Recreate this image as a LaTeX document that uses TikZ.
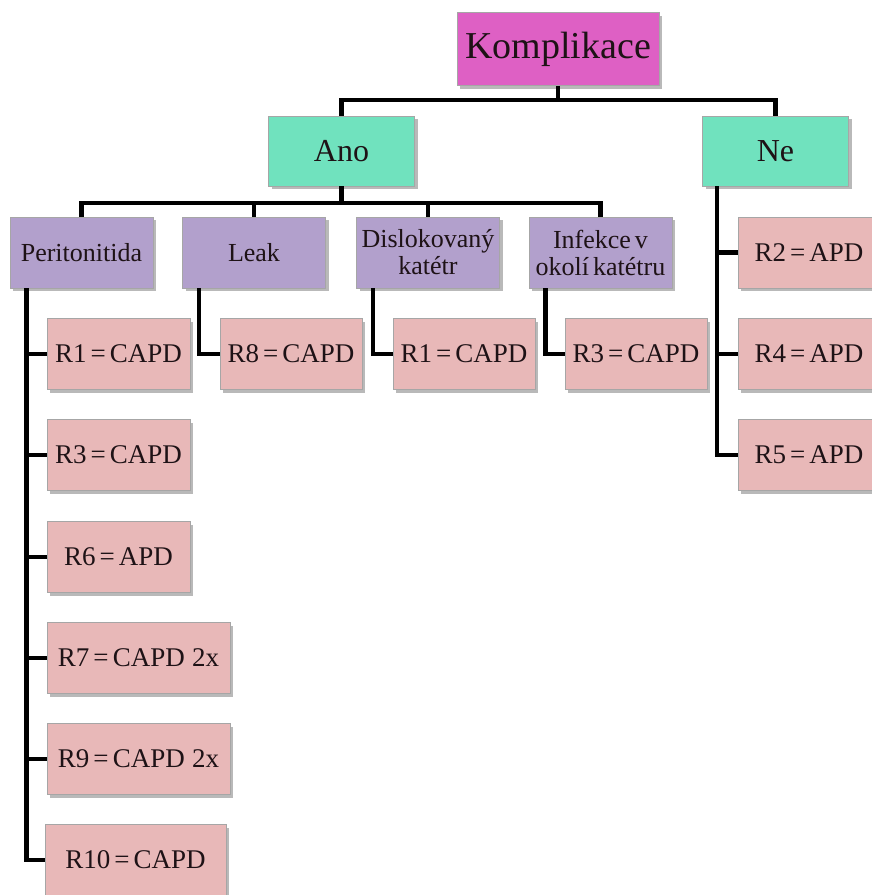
\documentclass[tikz,border=0pt]{standalone}
\usepackage{fontspec}
\setmainfont{Liberation Serif}[WordSpace=0.6]
\usetikzlibrary{shadows}
\definecolor{cKom}{RGB}{222,96,196}
\definecolor{cAno}{RGB}{112,226,190}
\definecolor{cLev}{RGB}{178,160,204}
\definecolor{cLeaf}{RGB}{232,184,184}
\definecolor{cTxt}{RGB}{30,18,22}
\tikzset{
  box/.style={rectangle, draw=gray!70, line width=0.7pt, text=cTxt, inner sep=0pt,
    align=center, drop shadow={shadow xshift=3pt, shadow yshift=-3pt, fill=gray!55, opacity=1}},
  kombox/.style={box, fill=cKom, minimum width=202pt, minimum height=73pt, font=\fontsize{38}{40}\selectfont},
  anobox/.style={box, fill=cAno, minimum width=146pt, minimum height=70pt, font=\fontsize{32}{34}\selectfont},
  levbox/.style={box, fill=cLev, minimum width=143pt, minimum height=71pt, font=\fontsize{26}{27}\selectfont},
  leafbox/.style={box, fill=cLeaf, minimum width=143pt, minimum height=71pt, font=\fontsize{27}{29}\selectfont},
  conn/.style={line width=4.5pt, black, line join=miter}
}
\begin{document}
\begin{tikzpicture}[x=1pt, y=-1pt]
\useasboundingbox (0,0) rectangle (871,895);
% nodes
\node[kombox] (kom) at (558,49) {Komplikace};
\node[anobox] (ano) at (341.5,151) {Ano};
\node[anobox] (ne) at (775.5,151) {Ne};
\node[levbox] (per) at (81.5,252.5) {Peritonitida};
\node[levbox] (leak) at (254,252.5) {Leak};
\node[levbox] (dis) at (428,252.5) {Dislokovaný\\katétr};
\node[levbox] (inf) at (600.5,252.5) {Infekce v\\okolí katétru};
% Peritonitida leaves
\node[leafbox] (p1) at (118.5,354) {R1 = CAPD};
\node[leafbox] (p3) at (118.5,455) {R3 = CAPD};
\node[leafbox] (p6) at (118.5,557) {R6 = APD};
\node[leafbox, minimum width=183pt] (p7) at (138.5,658) {R7 = CAPD\hspace{0.12em} 2x};
\node[leafbox, minimum width=183pt] (p9) at (138.5,759) {R9 = CAPD\hspace{0.12em} 2x};
\node[leafbox, minimum width=181pt] (p10) at (135.5,860) {R10 = CAPD};
% other leaves
\node[leafbox, minimum width=142pt] (l8) at (291,354) {R8 = CAPD};
\node[leafbox, minimum width=142pt] (d1) at (464,354) {R1 = CAPD};
\node[leafbox, minimum width=142pt] (i3) at (636,354) {R3 = CAPD};
% Ne leaves
\node[leafbox, minimum width=142pt] (n2) at (809,252.5) {R2 = APD};
\node[leafbox, minimum width=142pt] (n4) at (809,354) {R4 = APD};
\node[leafbox, minimum width=142pt] (n5) at (809,455) {R5 = APD};
% connectors
\coordinate (b1) at (558,100);
\draw[conn] (kom.south) -- (b1);
\draw[conn] (b1) -| (ano.north);
\draw[conn] (b1) -| (ne.north);
\coordinate (b2) at (341.5,203);
\draw[conn] (ano.south) -- (b2);
\draw[conn] (b2) -| (per.north);
\draw[conn] (b2) -| (leak.north);
\draw[conn] (b2) -| (dis.north);
\draw[conn] (b2) -| (inf.north);
% Peritonitida trunk
\coordinate (pt) at ([xshift=17pt]per.south west);
\draw[conn] (pt) |- (p10.west);
\foreach \n in {p1,p3,p6,p7,p9}{\draw[conn] (pt |- \n.west) -- (\n.west);}
% single leaves
\draw[conn] ([xshift=17pt]leak.south west) |- (l8.west);
\draw[conn] ([xshift=17pt]dis.south west) |- (d1.west);
\draw[conn] ([xshift=17pt]inf.south west) |- (i3.west);
% Ne trunk
\coordinate (nt) at ([xshift=15pt]ne.south west);
\draw[conn] (nt) |- (n5.west);
\foreach \n in {n2,n4}{\draw[conn] (nt |- \n.west) -- (\n.west);}
\end{tikzpicture}
\end{document}
